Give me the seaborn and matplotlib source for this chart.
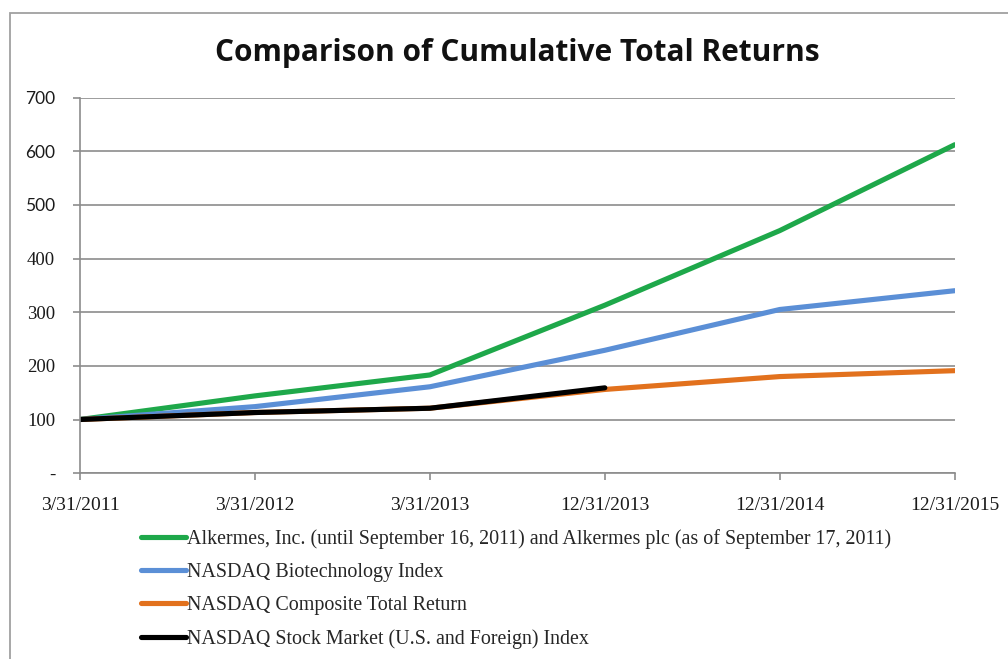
import numpy as np
import pandas as pd
import seaborn as sns
import matplotlib.pyplot as plt
from matplotlib.patches import Rectangle

# Data
dates = ['3/31/2011', '3/31/2012', '3/31/2013', '12/31/2013', '12/31/2014', '12/31/2015']
alkermes = [100, 144, 183, 313, 452, 612]
biotech = [100, 124, 161, 229, 305, 340]
composite = [100, 113, 121, 156, 180, 191]
stock_market = [100, 113, 121, 159, np.nan, np.nan]

names = ['Alkermes, Inc. (until September 16, 2011) and Alkermes plc (as of September 17, 2011)',
         'NASDAQ Biotechnology Index',
         'NASDAQ Composite Total Return',
         'NASDAQ Stock Market (U.S. and Foreign) Index']
colors = ['#1ea84a', '#5b8fd6', '#e2711d', '#000000']
ytick_labels = ['-', '100', '200', '300', '400', '500', '600', '700']

df = pd.DataFrame({'Date': dates * 4,
                   'Return': alkermes + biotech + composite + stock_market,
                   'Series': [n for n in names for _ in dates]})

sns.set_style('white')
plt.rcParams['font.family'] = ['Liberation Serif', 'DejaVu Serif']

fig = plt.figure(figsize=(10.08, 6.59), dpi=100)
ax = fig.add_axes([0.0794, 0.282, 0.8677, 0.570])

sns.lineplot(data=df, x='Date', y='Return', hue='Series', palette=colors,
             linewidth=3.7, ax=ax, legend=False, sort=False)

ax.set_xlim(0, len(dates) - 1)
ax.set_ylim(0, 700)
ax.set_yticks(range(0, 701, 100))
ax.set_yticklabels(ytick_labels)
ax.set_xlabel('')
ax.set_ylabel('')
ax.yaxis.grid(True, color='#8c8c8c', linewidth=1.2)
ax.xaxis.grid(False)
for s in ['top', 'right']:
    ax.spines[s].set_visible(False)
for s in ['left', 'bottom']:
    ax.spines[s].set_color('#8c8c8c')
    ax.spines[s].set_linewidth(1.2)
ax.tick_params(axis='both', which='both', direction='out', length=5, width=1.2,
               color='#8c8c8c', labelsize=14, labelcolor='#1a1a1a',
               left=True, bottom=True)
ax.tick_params(axis='x', pad=12)
ax.tick_params(axis='y', pad=13, labelsize=13.5)
# the top three y labels are drawn in a sans face in the original
for lab in ax.get_yticklabels()[5:]:
    lab.set_fontfamily(['Lato', 'DejaVu Sans'])
    lab.set_fontsize(12.5)

fig.text(0.513, 0.919, 'Comparison of Cumulative Total Returns', ha='center', va='center',
         fontsize=21.5, fontweight='bold', family=['Open Sans', 'DejaVu Sans'], color='#111111')

# legend below the plot
handles = [plt.Line2D([], [], color=c, linewidth=3.7) for c in colors]
fig.legend(handles, names, loc='upper left', bbox_to_anchor=(0.132, 0.209), frameon=False,
           fontsize=14.4, handlelength=2.25, handletextpad=0.05, labelspacing=0.7,
           borderaxespad=0)

# outer chart frame
fig.add_artist(Rectangle((0.0099, -0.1), 1.2, 1.08, transform=fig.transFigure,
                         fill=False, edgecolor='#a0a0a0', linewidth=1.3))

fig.savefig('out.png', dpi=100)
